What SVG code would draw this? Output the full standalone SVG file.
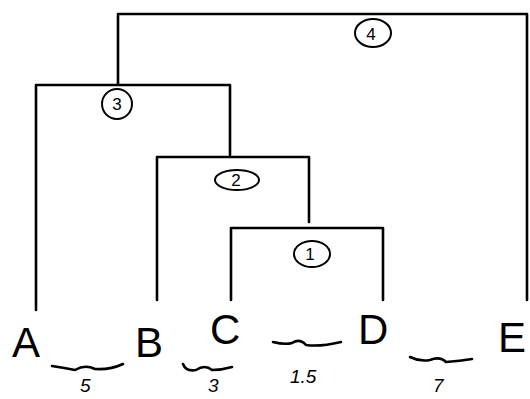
<svg xmlns="http://www.w3.org/2000/svg" width="530" height="399" viewBox="0 0 530 399">
<style>
.ln{fill:none;stroke:#000;stroke-width:2.6;stroke-linecap:round;stroke-linejoin:round}
.c{fill:none;stroke:#000;stroke-width:2}
.lab{font-family:"Liberation Sans",Arial,sans-serif;fill:#000}
.big{font-size:42px}
.sm{font-size:19px;font-style:italic}
.num{font-size:17px;text-anchor:middle}
</style>
<rect width="530" height="399" fill="#fff"/>
<g id="connectors">
<path class="ln" d="M118,84 V14 H527 V300"/>
<path class="ln" d="M36,310 V85 H230 V155"/>
<path class="ln" d="M157,300 V157 H309 V222"/>
<path class="ln" d="M231,300 V228 H383 V300"/>
</g>
<g id="merge4"><ellipse class="c" cx="373" cy="33" rx="18" ry="14"/><text class="lab num" x="371" y="40">4</text></g>
<g id="merge3"><ellipse class="c" cx="117" cy="104" rx="15" ry="15"/><text class="lab num" x="117" y="110">3</text></g>
<g id="merge2"><ellipse class="c" cx="237" cy="180" rx="22" ry="10"/><text class="lab num" x="236" y="186">2</text></g>
<g id="merge1"><ellipse class="c" cx="312" cy="254" rx="18" ry="13"/><text class="lab num" x="310" y="260">1</text></g>
<g id="leafA"><text class="lab big" x="12" y="357">A</text></g>
<g id="leafB"><text class="lab big" x="135" y="357">B</text></g>
<g id="leafC"><text class="lab big" x="210" y="344">C</text></g>
<g id="leafD"><text class="lab big" x="358" y="344">D</text></g>
<g id="leafE"><text class="lab big" x="498" y="352">E</text></g>
<g id="distances">
<path class="ln" d="M52,366 Q65,368 75,370 Q85,364 95,369 Q110,370 123,364"/>
<path class="ln" d="M183,364 Q186,372 196,370 Q205,364 212,370 Q222,370 232,367"/>
<path class="ln" d="M273,342 Q285,345 292,343 Q300,338 306,345 Q320,347 341,342"/>
<path class="ln" d="M410,357 Q420,362 430,360 Q440,356 446,362 Q460,361 472,359"/>
<text class="lab sm" x="80" y="392">5</text>
<text class="lab sm" x="208" y="392">3</text>
<text class="lab sm" x="290" y="383">1.5</text>
<text class="lab sm" x="433" y="392">7</text>
</g>
</svg>
